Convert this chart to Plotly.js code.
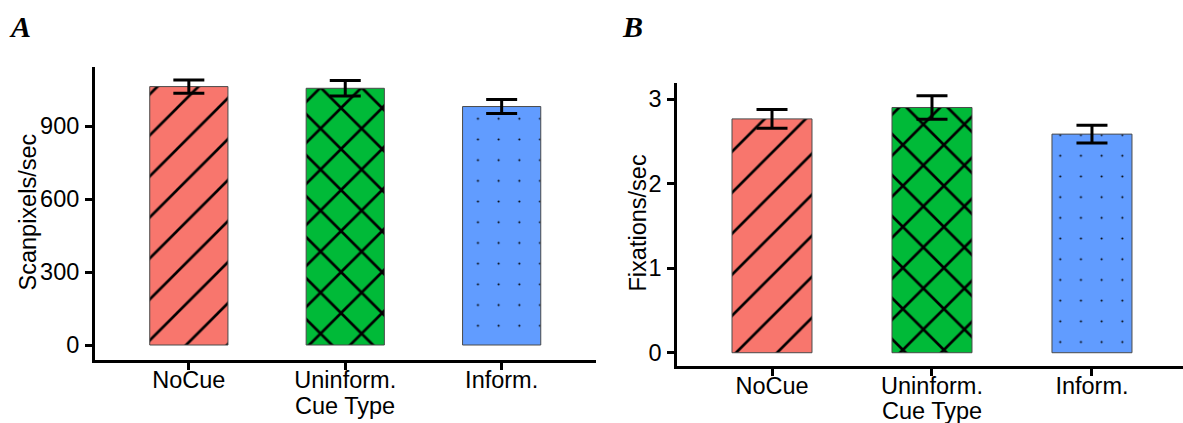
<!DOCTYPE html>
<html>
<head>
<meta charset="utf-8">
<script src="https://cdn.plot.ly/plotly-3.0.1.min.js"></script>
<style>html,body{margin:0;padding:0;background:#fff;}#chart{width:1183px;height:423px;}</style>
</head>
<body>
<div id="chart"></div>
<script>
// ---- data ----
const categories = ["NoCue", "Uninform.", "Inform."];
const scanpixelsMean = [1062, 1055, 980];
const scanpixelsErr = [27, 32, 29];
const fixationsMean = [2.765, 2.90, 2.585];
const fixationsErr = [0.11, 0.138, 0.105];
const barColors = ["#F8766D", "#00BA38", "#619CFF"];
const patternShapes = ["/", "x", "."];
const panelLabels = ["A", "B"];
const yTitles = ["Scanpixels/sec", "Fixations/sec"];
const xTitle = "Cue Type";

// ---- pattern styling (not data) ----
const patternSizes = [29, 29, 20.7];
const patternSolidity = [0.093, 0.178, 0.0075];

// ---- geometry helpers (pixel -> paper) ----
const W = 1183, H = 423;
const px = v => v / W;
const py = v => 1 - v / H;

const FONT = "Liberation Sans, Arial, sans-serif";
const tickFont = {family: FONT, size: 23.5, color: "#000"};

function barTraces(xa, ya, means, errs) {
  return categories.map((c, i) => ({
    type: "bar",
    x: [c],
    y: [means[i]],
    xaxis: xa, yaxis: ya,
    width: 0.5,
    marker: {
      color: barColors[i],
      line: {color: "#4a4a4a", width: 1},
      pattern: {
        shape: patternShapes[i],
        size: patternSizes[i],
        solidity: patternSolidity[i],
        fgcolor: "#000",
        bgcolor: barColors[i],
        fgopacity: 1,
        fillmode: "replace"
      }
    },
    error_y: {type: "data", array: [errs[i]], visible: true, color: "#000", thickness: 3, width: 15.5},
    hoverinfo: "skip",
    showlegend: false
  }));
}

const data = [].concat(
  barTraces("x", "y", scanpixelsMean, scanpixelsErr),
  barTraces("x2", "y2", fixationsMean, fixationsErr)
);

const axisCommon = {
  showline: true, linecolor: "#000", linewidth: 3,
  ticks: "outside", ticklen: 7, tickwidth: 3, tickcolor: "#000",
  showgrid: false, zeroline: false, tickfont: tickFont, fixedrange: true
};

const layout = {
  width: W, height: H,
  margin: {l: 0, r: 0, t: 0, b: 0, pad: 0},
  paper_bgcolor: "#fff", plot_bgcolor: "#fff",
  font: {family: FONT, color: "#000"},
  showlegend: false,
  barmode: "overlay",
  xaxis: Object.assign({}, axisCommon, {
    domain: [px(95), px(595.5)], range: [-0.6, 2.6], anchor: "y",
    type: "category", categoryarray: categories, ticklabelstandoff: -10
  }),
  yaxis: Object.assign({}, axisCommon, {
    domain: [1 - 360 / H, 1 - 67 / H], range: [-61.6, 1142.5], anchor: "x",
    tickvals: [0, 300, 600, 900], ticklabelstandoff: 1
  }),
  xaxis2: Object.assign({}, axisCommon, {
    domain: [px(677.3), 1], range: [-0.592, 2.569], anchor: "y2",
    type: "category", categoryarray: categories, ticklabelstandoff: -10
  }),
  yaxis2: Object.assign({}, axisCommon, {
    domain: [1 - 365.5 / H, 1 - 83.3 / H], range: [-0.151, 3.186], anchor: "x2",
    tickvals: [0, 1, 2, 3], ticklabelstandoff: 1
  }),
  annotations: [
    {text: panelLabels[0], xref: "paper", yref: "paper", x: px(7), y: py(27), xanchor: "left", yanchor: "middle",
     showarrow: false, font: {family: "Liberation Serif, Times New Roman, serif", size: 30, color: "#000", weight: "bold", style: "italic"}},
    {text: panelLabels[1], xref: "paper", yref: "paper", x: px(620), y: py(27), xanchor: "left", yanchor: "middle",
     showarrow: false, font: {family: "Liberation Serif, Times New Roman, serif", size: 30, color: "#000", weight: "bold", style: "italic"}},
    {text: yTitles[0], xref: "paper", yref: "paper", x: px(27), y: py(212.5), xanchor: "center", yanchor: "middle",
     textangle: -90, showarrow: false, font: {family: FONT, size: 23.5, color: "#000"}},
    {text: yTitles[1], xref: "paper", yref: "paper", x: px(637), y: py(223.5), xanchor: "center", yanchor: "middle",
     textangle: -90, showarrow: false, font: {family: FONT, size: 23.5, color: "#000"}},
    {text: xTitle, xref: "paper", yref: "paper", x: px(344.5), y: py(405.5), xanchor: "center", yanchor: "middle",
     showarrow: false, font: {family: FONT, size: 23.5, color: "#000"}},
    {text: xTitle, xref: "paper", yref: "paper", x: px(932), y: py(410.5), xanchor: "center", yanchor: "middle",
     showarrow: false, font: {family: FONT, size: 23.5, color: "#000"}}
  ]
};

Plotly.newPlot("chart", data, layout, {displayModeBar: false, staticPlot: true});
</script>
</body>
</html>
